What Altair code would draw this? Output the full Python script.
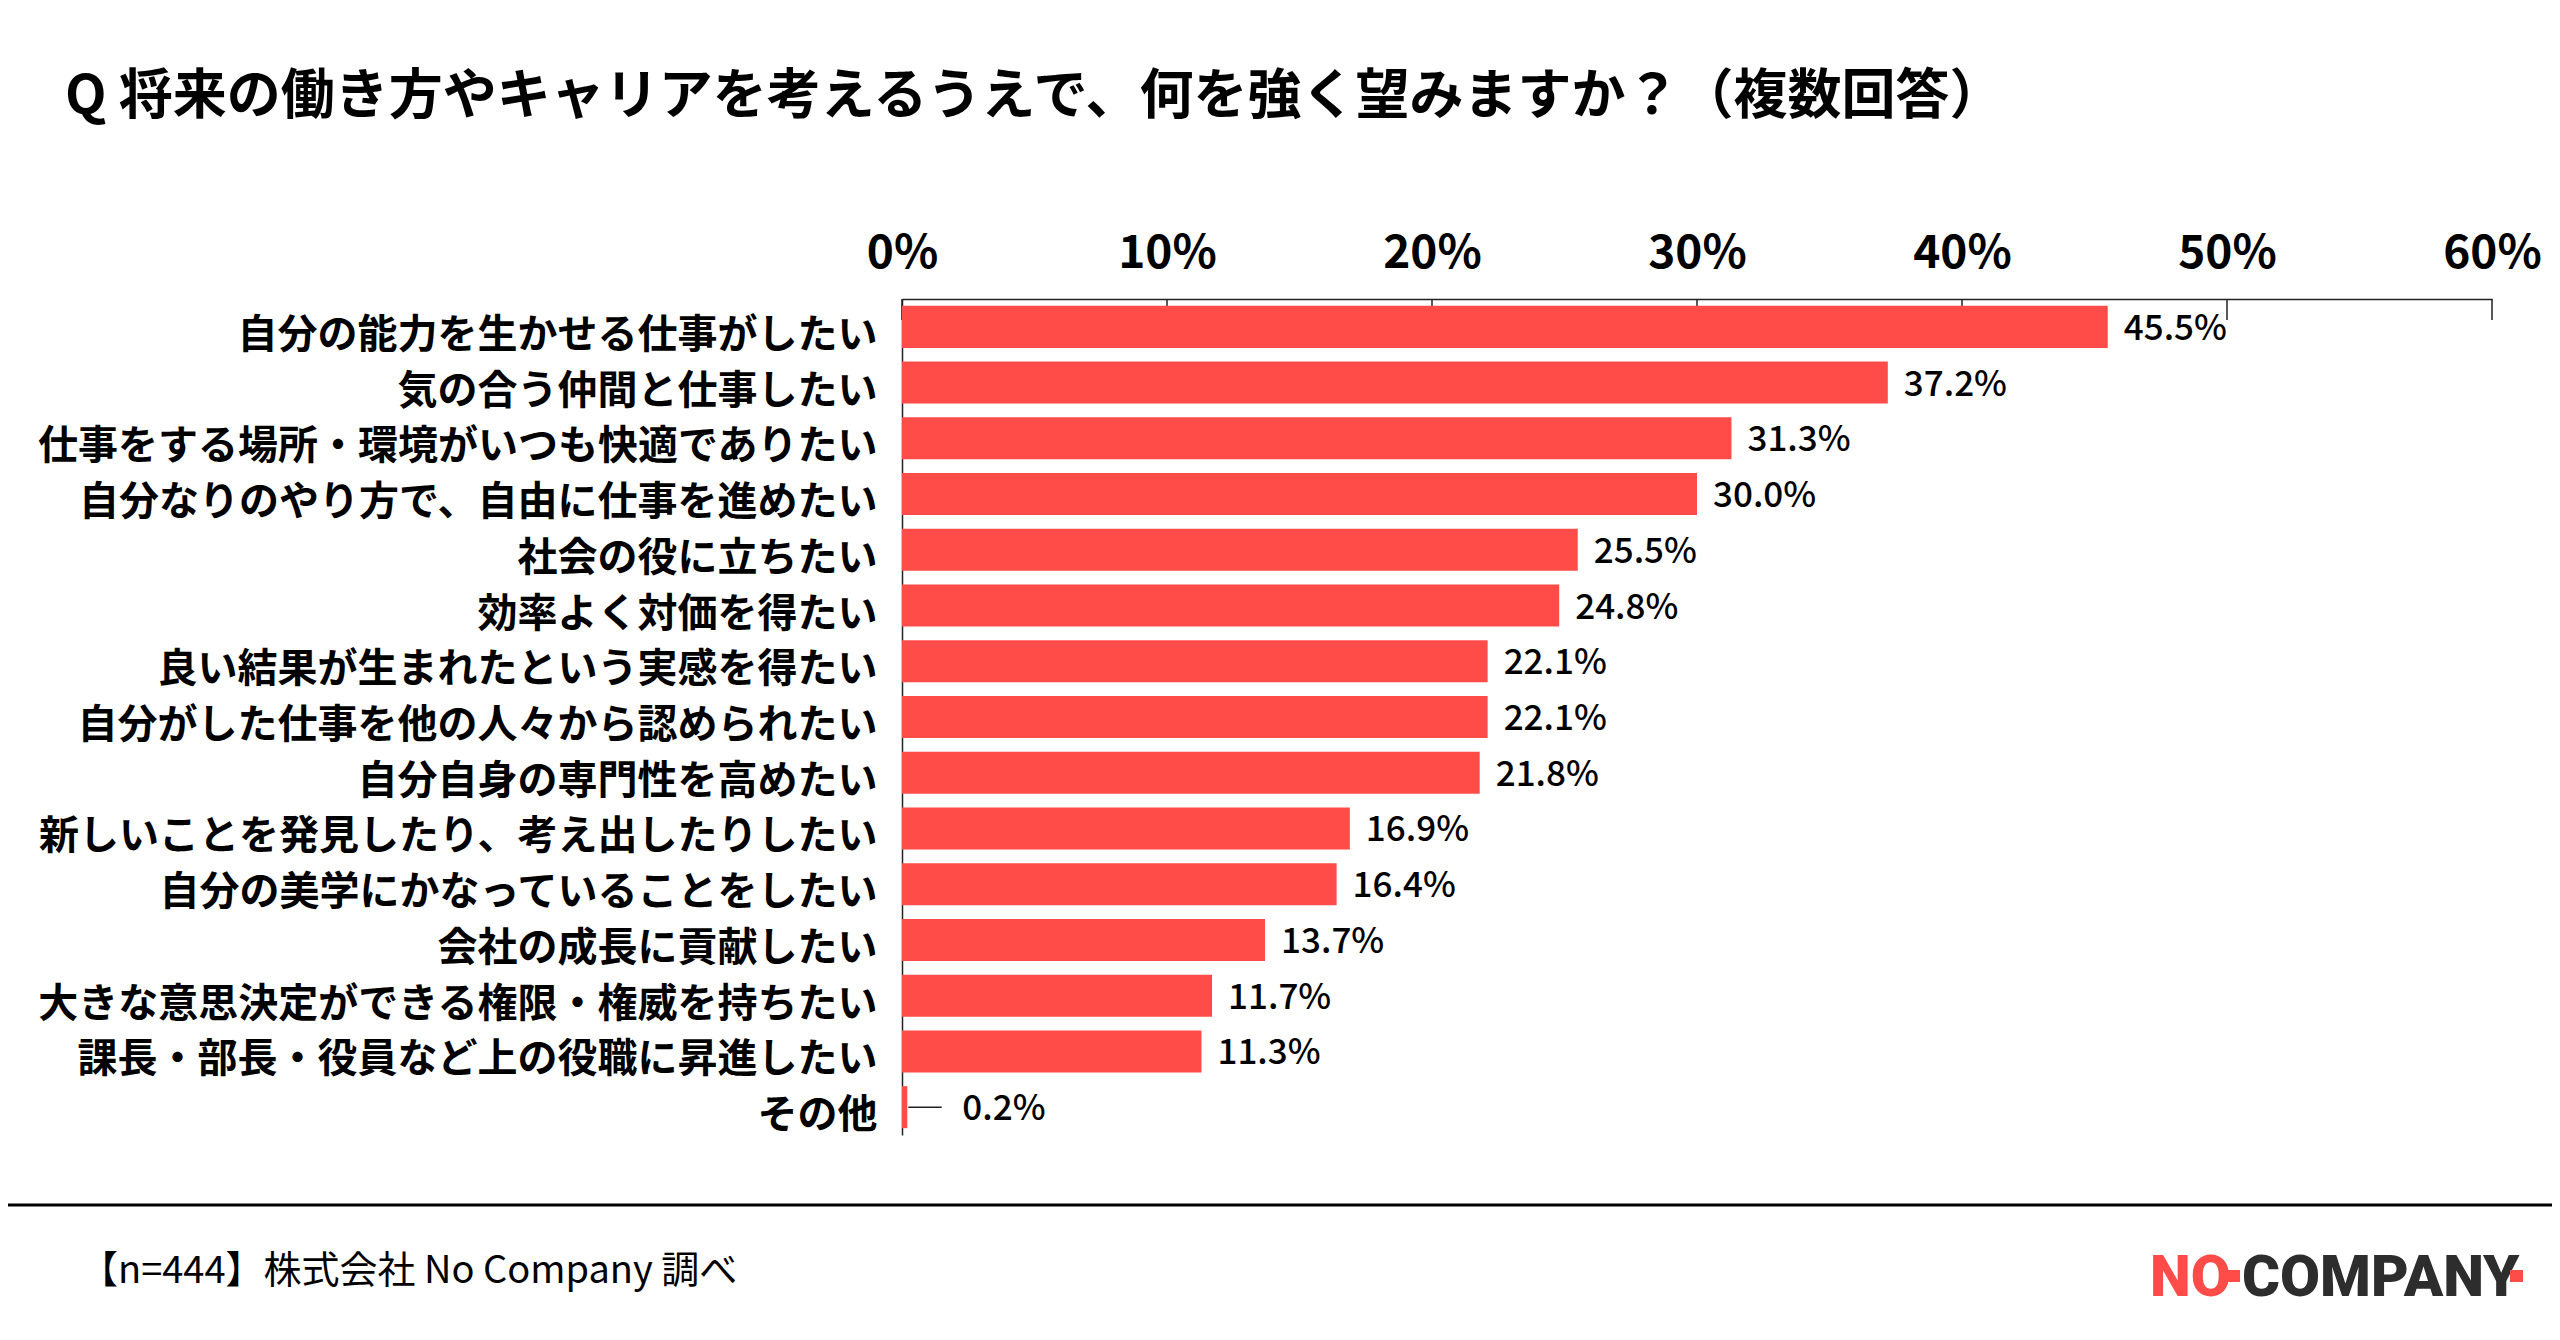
import altair as alt
import pandas as pd

# ---- data -------------------------------------------------------------
categories = [
    "自分の能力を生かせる仕事がしたい",
    "気の合う仲間と仕事したい",
    "仕事をする場所・環境がいつも快適でありたい",
    "自分なりのやり方で、自由に仕事を進めたい",
    "社会の役に立ちたい",
    "効率よく対価を得たい",
    "良い結果が生まれたという実感を得たい",
    "自分がした仕事を他の人々から認められたい",
    "自分自身の専門性を高めたい",
    "新しいことを発見したり、考え出したりしたい",
    "自分の美学にかなっていることをしたい",
    "会社の成長に貢献したい",
    "大きな意思決定ができる権限・権威を持ちたい",
    "課長・部長・役員など上の役職に昇進したい",
    "その他",
]
values = [45.5, 37.2, 31.3, 30.0, 25.5, 24.8, 22.1, 22.1, 21.8, 16.9, 16.4, 13.7, 11.7, 11.3, 0.2]
tick_values = [0, 10, 20, 30, 40, 50, 60]

title_text = "Q 将来の働き方やキャリアを考えるうえで、何を強く望みますか？（複数回答）"
footer_text = "【n=444】株式会社 No Company 調べ"
logo_red = "NO"
logo_dark = "COMPANY"

# ---- styling ----------------------------------------------------------
FONT = "Noto Sans CJK JP"
RED = "#FF4C48"
DARK = "#222222"
W, H = 1590, 836

df = pd.DataFrame({"item": categories, "value": values})
ticks_df = pd.DataFrame({"t": tick_values})
one = pd.DataFrame({"k": [0]})

xscale = alt.Scale(domain=[0, 60], nice=False, zero=True)
yscale = alt.Scale(paddingInner=0.246, paddingOuter=0.123)

x_axis = alt.Axis(
    orient="top", values=tick_values, labelExpr="datum.value + '%'",
    title=None, grid=False, ticks=False, tickSize=0,
    labelFont=FONT, labelFontSize=46, labelFontWeight="bold",
    labelColor="#000000", labelPadding=22, labelFlush=False,
    labelOverlap=False, domainColor=DARK, domainWidth=1.5,
)
y_axis = alt.Axis(
    title=None, ticks=False, tickSize=0, labelFont=FONT,
    labelFontSize=40, labelFontWeight="bold", labelColor="#000000",
    labelPadding=25, labelLimit=0, labelOffset=9, labelOverlap=False,
    domainColor=DARK, domainWidth=1.5,
)


def xv(field="value:Q"):
    return alt.X(field, scale=xscale, axis=x_axis, title=None)


def yv():
    return alt.Y("item:N", sort=categories, scale=yscale, axis=y_axis, title=None)


base = alt.Chart(df).transform_calculate(
    label="format(datum.value, '.1f') + '%'",
    lead="datum.value + 1.3",
)

tick_marks = alt.Chart(ticks_df).mark_rule(color=DARK, strokeWidth=1.5).encode(
    x=xv("t:Q"), y=alt.value(0), y2=alt.value(21),
)

bars = base.mark_bar(color=RED).encode(x=xv(), y=yv())

labels_big = base.transform_filter("datum.value >= 1").mark_text(
    align="left", baseline="middle", dx=16, dy=2, font=FONT, fontSize=35,
    fontWeight=500, color="#000000",
).encode(x=xv(), y=yv(), text="label:N")

labels_small = base.transform_filter("datum.value < 1").mark_text(
    align="left", baseline="middle", dx=55, dy=2, font=FONT, fontSize=35,
    fontWeight=500, color="#000000",
).encode(x=xv(), y=yv(), text="label:N")

leader = base.transform_filter("datum.value < 1").mark_rule(
    color=DARK, strokeWidth=1.5, xOffset=1,
).encode(x=xv(), x2="lead:Q", y=yv())

title = alt.Chart(one).mark_text(
    align="left", baseline="middle", font=FONT, fontSize=54,
    fontWeight="bold", color="#000000",
).encode(text=alt.value(title_text), x=alt.value(65 - 902), y=alt.value(98 - 299))

separator = alt.Chart(one).mark_rule(color="#000000", strokeWidth=3).encode(
    x=alt.value(-894), x2=alt.value(1650), y=alt.value(906),
)

footer = alt.Chart(one).mark_text(
    align="left", baseline="middle", font=FONT, fontSize=38,
    color="#000000",
).encode(text=alt.value(footer_text), x=alt.value(80 - 902), y=alt.value(973))

logo_a = alt.Chart(one).mark_text(
    align="left", baseline="alphabetic", font="Roboto", fontSize=58,
    fontWeight=900, color=RED,
).encode(text=alt.value(logo_red), x=alt.value(1248), y=alt.value(997))

logo_b = alt.Chart(one).mark_text(
    align="left", baseline="alphabetic", font="Roboto", fontSize=58,
    fontWeight=900, color="#2D2D2D",
).encode(text=alt.value(logo_dark), x=alt.value(1340), y=alt.value(997))

logo_sq1 = alt.Chart(one).mark_rect(color=RED).encode(
    x=alt.value(1325), x2=alt.value(1338), y=alt.value(971), y2=alt.value(983))
logo_sq2 = alt.Chart(one).mark_rect(color=RED).encode(
    x=alt.value(1608), x2=alt.value(1621), y=alt.value(971), y2=alt.value(983))

chart = alt.layer(
    tick_marks, bars, labels_big, labels_small, leader,
    title, separator, footer, logo_a, logo_b, logo_sq1, logo_sq2,
).resolve_scale(x="shared", y="shared").properties(
    width=W, height=H,
    autosize=alt.AutoSizeParams(type="none"),
    padding={"left": 894, "top": 291, "right": 60, "bottom": 197},
    background="white",
).configure_view(stroke=None)

chart.save("out.html", embed_options={"renderer": "svg", "actions": False})
